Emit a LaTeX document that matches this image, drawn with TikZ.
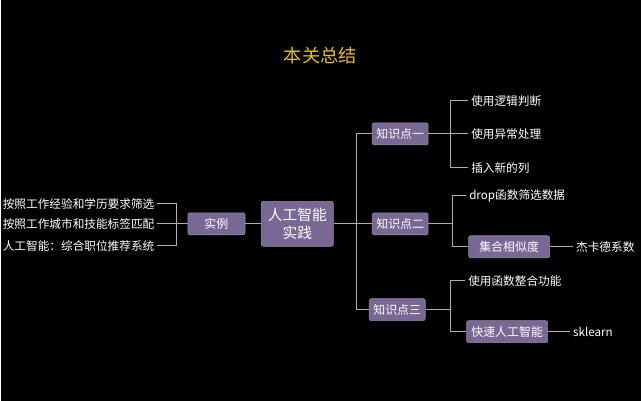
\documentclass[tikz,border=0pt]{standalone}
\usepackage{fontspec}
\setmainfont{Noto Sans CJK SC}
\usetikzlibrary{positioning}
\definecolor{boxpurple}{RGB}{121,103,148}
\definecolor{boxedge}{RGB}{150,140,165}
\definecolor{linegrey}{RGB}{175,175,175}
\definecolor{titlegold}{RGB}{236,190,20}

\begin{document}
\begin{tikzpicture}[x=0.025cm,y=-0.025cm,
    box/.style={fill=boxpurple, draw=boxedge, rounded corners=1.5pt, text=white,
      font=\fontsize{8.5}{10}\selectfont, minimum height=0.55cm, inner sep=1pt},
    leaf/.style={text=white, font=\fontsize{8.3}{10}\selectfont, inner sep=2pt},
    link/.style={draw=linegrey, line width=0.7pt}]
    % Background
    \fill[black] (0,0) rectangle (641,401);
    % Title
    \node[text=titlegold, font=\fontsize{13}{15}\selectfont] (title) at (320,56) {本关总结};

    % Centre and example
    \node[box, minimum width=1.8cm, minimum height=1.125cm, align=center,
      font=\fontsize{10.5}{13}\selectfont] (root) at (297,224) {人工智能\\实践};
    \node[box, minimum width=1.43cm] (shili) at (216,224) {实例};
    % Left leaves
    \foreach \t/\y/\n in {按照工作经验和学历要求筛选/204/la,
                         按照工作城市和技能标签匹配/224/lb,
                         人工智能：综合职位推荐系统/246/lc}
    \node[leaf, anchor=east] (\n) at (157,\y) {\t};
    \coordinate (lj) at (176,224);
    \draw[link] (la.east) -| (lj) |- (lc.east);
    \draw[link] (lb.east) -- (shili.west);
    \draw[link] (shili.east) -- (root.west);

    % Knowledge points
    \node[box, minimum width=1.4cm] (k1) at (400,134) {知识点一};
    \node[box, minimum width=1.4cm] (k2) at (400,224) {知识点二};
    \node[box, minimum width=1.4cm] (k3) at (397,310) {知识点三};
    \coordinate (trunk) at (356,224);
    \draw[link] (root.east) -- (trunk);
    \draw[link] (k1.west) -| (trunk) |- (k3.west);
    \draw[link] (trunk) -- (k2.west);

    % Point one
    \node[leaf, anchor=west] (a1) at (468,101) {使用逻辑判断};
    \node[leaf, anchor=west] (a2) at (468,134) {使用异常处理};
    \node[leaf, anchor=west] (a3) at (468,168) {插入新的列};
    \coordinate (j1) at (450,134);
    \draw[link] (a1.west) -| (j1) |- (a3.west);
    \draw[link] (k1.east) -- (a2.west);

    % Point two
    \node[leaf, anchor=west] (b1) at (466,196) {drop函数筛选数据};
    \node[box, minimum width=2.03cm] (b2) at (509,247) {集合相似度};
    \node[leaf, anchor=west] (b3) at (573,247) {杰卡德系数};
    \coordinate (j2) at (452,224);
    \draw[link] (k2.east) -- (j2);
    \draw[link] (b1.west) -| (j2) |- (b2.west);
    \draw[link] (b2.east) -- (b3.west);

    % Point three
    \node[leaf, anchor=west] (c1) at (465,281) {使用函数整合功能};
    \node[box, minimum width=2.03cm] (c2) at (507,332) {快速人工智能};
    \node[leaf, anchor=west] (c3) at (570,332) {sklearn};
    \coordinate (j3) at (450,310);
    \draw[link] (k3.east) -- (j3);
    \draw[link] (c1.west) -| (j3) |- (c2.west);
    \draw[link] (c2.east) -- (c3.west);
\end{tikzpicture}
\end{document}
